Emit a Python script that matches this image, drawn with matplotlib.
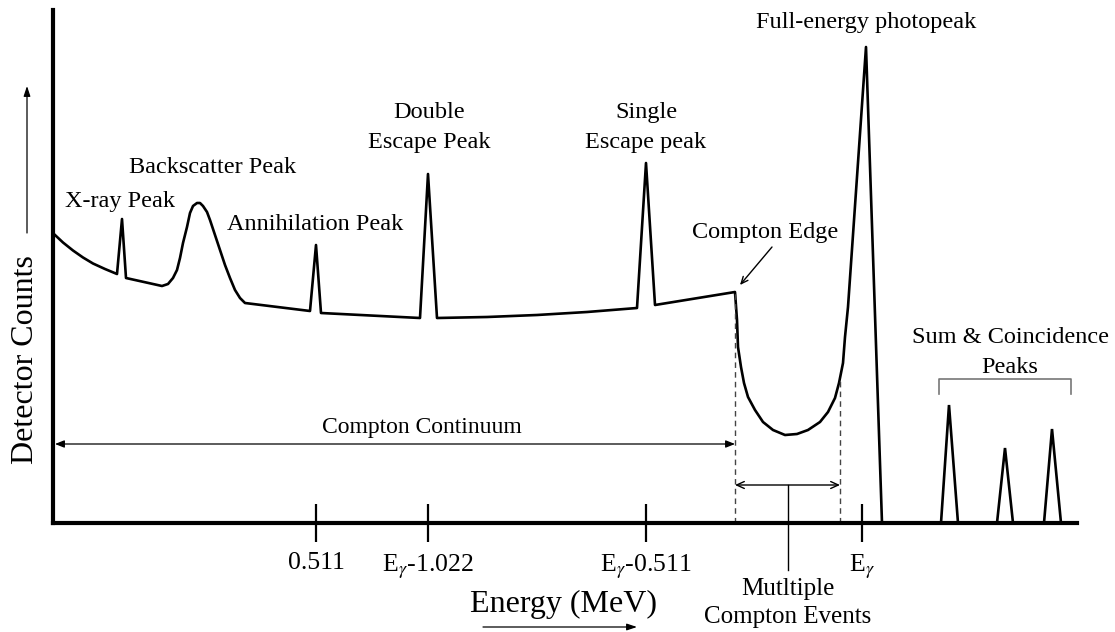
import matplotlib
matplotlib.use('Agg')
import matplotlib.pyplot as plt

plt.rcParams['font.family'] = ['Liberation Serif', 'DejaVu Serif']
plt.rcParams['mathtext.fontset'] = 'stix'

# ---- data (arbitrary energy channel vs arbitrary counts) ----
energy = [2, 10, 20, 30, 40, 52, 64, 69, 73,
          109, 115, 120, 124, 127, 130, 134, 137, 140, 144, 147, 150, 154, 157,
          162, 167, 172, 177, 182, 187, 192,
          257, 263, 268, 367, 375, 384, 434, 484, 534, 584, 593, 602,
          682, 684, 685, 688, 691, 695, 702, 710, 720, 732, 744, 755, 767, 775,
          782, 786, 790, 792, 795, 813, 829]
counts = [288, 280.5, 272.5, 265.5, 259.5, 254, 249, 304, 245,
          237, 239, 245, 253, 265, 280, 296, 310, 317, 320, 320, 317, 311, 303,
          288, 273, 258, 245, 233, 225, 220,
          212, 278, 210, 205, 349, 205, 206, 208, 211, 215, 360, 218,
          231, 203, 176, 156, 140, 126, 113, 101, 93, 88, 89, 93, 101, 111,
          125, 140, 160, 186, 216, 476, 0]

sum_left = [888, 944, 991]
sum_peak = [896, 952, 999]
sum_right = [905, 960, 1008]
sum_heights = [118, 75, 94]

tick_pos = [263, 375, 593, 809]
tick_labels = ['0.511', r'E$_\gamma$-1.022', r'E$_\gamma$-0.511', r'E$_\gamma$']

compton_edge_x = 682
compton_edge_y = 231
multi_right_x = 787
multi_right_y = 143
multi_center_x = 735

W, H = 1115, 632
fig = plt.figure(figsize=(W / 100, H / 100), dpi=100)
x0, y0, x1, y1 = 53, 523, 1077, 10
ax = fig.add_axes([x0 / W, (H - y0) / H, (x1 - x0) / W, (y0 - y1) / H])
ax.set_xlim(0, x1 - x0)
ax.set_ylim(0, y0 - y1)

for s in ['top', 'right']:
    ax.spines[s].set_visible(False)
for s in ['left', 'bottom']:
    ax.spines[s].set_linewidth(3)
    ax.spines[s].set_capstyle('projecting')

ax.set_yticks([])
ax.set_xticks(tick_pos)
ax.set_xticklabels(tick_labels, fontsize=18.5)
ax.tick_params(axis='x', direction='inout', length=28, width=1.6, pad=7)

lw = 1.9
ax.plot(energy, counts, color='black', lw=lw, solid_joinstyle='round', clip_on=False)
for l, p, r, h in zip(sum_left, sum_peak, sum_right, sum_heights):
    ax.plot([l, p, r], [0, h, 0], color='black', lw=lw, solid_joinstyle='miter')

# dashed guides
dash = dict(color='#444444', lw=1.0, ls=(0, (4, 3)))
ax.plot([compton_edge_x, compton_edge_x], [0, compton_edge_y], **dash)
ax.plot([multi_right_x, multi_right_x], [0, multi_right_y], **dash)

# Compton continuum arrow
ax.annotate('', xy=(2, 79), xytext=(compton_edge_x, 79),
            arrowprops=dict(arrowstyle='<|-|>,head_length=0.55,head_width=0.22',
                            color='black', lw=0.9, shrinkA=0, shrinkB=0))
ax.text(369, 90, 'Compton Continuum', fontsize=17, ha='center', va='baseline')

# multiple compton events
ax.annotate('', xy=(compton_edge_x, 38), xytext=(multi_right_x, 38),
            arrowprops=dict(arrowstyle='<->,head_length=0.55,head_width=0.25',
                            color='black', lw=1.0, shrinkA=0, shrinkB=0))
ax.plot([multi_center_x, multi_center_x], [38, -47], color='black', lw=1.0, clip_on=False)
ax.text(multi_center_x, -72, 'Mutltiple', fontsize=18, ha='center', va='baseline')
ax.text(multi_center_x, -100, 'Compton Events', fontsize=18, ha='center', va='baseline')

# bracket
ax.plot([886, 886, 1018, 1018], [129, 144, 144, 129], color='#777777', lw=1.2)
ax.text(957, 180, 'Sum & Coincidence', fontsize=17.5, ha='center', va='baseline')
ax.text(957, 150, 'Peaks', fontsize=17.5, ha='center', va='baseline')

# peak labels
fs = 17.5
ax.text(67, 316, 'X-ray Peak', fontsize=fs, ha='center', va='baseline')
ax.text(160, 350, 'Backscatter Peak', fontsize=fs, ha='center', va='baseline')
ax.text(262, 293, 'Annihilation Peak', fontsize=fs, ha='center', va='baseline')
ax.text(376, 405, 'Double', fontsize=fs, ha='center', va='baseline')
ax.text(376, 375, 'Escape Peak', fontsize=fs, ha='center', va='baseline')
ax.text(593, 405, 'Single', fontsize=fs, ha='center', va='baseline')
ax.text(593, 375, 'Escape peak', fontsize=fs, ha='center', va='baseline')
ax.text(712, 285, 'Compton Edge', fontsize=fs, ha='center', va='baseline')
ax.text(813, 495, 'Full-energy photopeak', fontsize=fs, ha='center', va='baseline',
        clip_on=False)
ax.annotate('', xy=(687, 238), xytext=(719, 276),
            arrowprops=dict(arrowstyle='->,head_length=0.5,head_width=0.22',
                            color='black', lw=1.0, shrinkA=0, shrinkB=0))

# axis titles
ax.text(-27, 163, 'Detector Counts', fontsize=23, rotation=90, ha='center', va='center',
        clip_on=False)
ax.annotate('', xy=(-26, 437), xytext=(-26, 290), annotation_clip=False,
            arrowprops=dict(arrowstyle='-|>,head_length=0.6,head_width=0.2',
                            color='black', lw=0.9, shrinkA=0, shrinkB=0))
ax.text(510, -89, 'Energy (MeV)', fontsize=23, ha='center', va='baseline', clip_on=False)
ax.annotate('', xy=(584, -104), xytext=(430, -104), annotation_clip=False,
            arrowprops=dict(arrowstyle='-|>,head_length=0.6,head_width=0.2',
                            color='black', lw=0.9, shrinkA=0, shrinkB=0))

fig.savefig('out.png', dpi=100)
